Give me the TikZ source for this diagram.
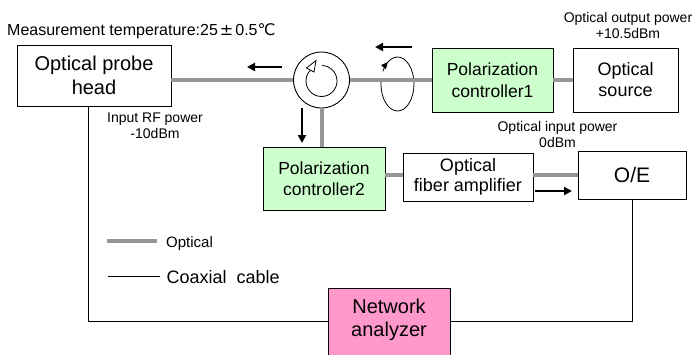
\documentclass[tikz,border=0pt]{standalone}
\usepackage{fontspec}
\setmainfont{Liberation Sans}
\newfontfamily\dejavu{DejaVu Sans}
\usetikzlibrary{arrows.meta}
\definecolor{optgray}{RGB}{150,150,150}
\definecolor{pcgreen}{RGB}{204,255,204}
\definecolor{napink}{RGB}{255,153,204}
\begin{document}
\begin{tikzpicture}[x=1pt,y=-1pt,
  box/.style={draw, line width=0.9pt, inner sep=0pt, align=center},
  optical/.style={draw=optgray, line width=4pt},
  coax/.style={draw=black, line width=0.9pt},
  flow/.style={line width=2.2pt, -{Triangle[length=8pt,width=8pt]}},
  small/.style={font=\fontsize{14}{16}\selectfont, inner sep=0pt, align=center},
  pctext/.style={font=\fontsize{17.5}{21.5}\selectfont},
  thin/.style={line width=0.8pt}]
\useasboundingbox (0,0) rectangle (695,354);
\begin{scope}
\clip (0,0) rectangle (695,354);
\fill[white] (0,0) rectangle (695,354);

% texts
\node[anchor=base west, inner sep=0pt, font=\fontsize{16}{18}\selectfont] (temp) at (7,35)
  {Measurement temperature:25\kern2pt{\dejavu ±}\kern2pt0.5{\dejavu ℃}};
\node[small] (outpow) at (628,25.5) {Optical output power\\+10.5dBm};
\node[small] (inpow) at (557.5,134) {Optical input power\\0dBm};
\node[small] (rfpow) at (155,126) {Input RF power\\-10dBm};

% boxes
\node[box, minimum width=154pt, minimum height=61pt, font=\fontsize{20}{24}\selectfont] (probe) at (94,75.5) {Optical probe\\head};
\node[draw, circle, line width=0.9pt, minimum size=56pt, inner sep=0pt] (circ) at (321.5,80) {};
\node[box, fill=pcgreen, minimum width=121pt, minimum height=64pt, pctext] (pc1) at (492.5,80) {Polarization\\controller1};
\node[box, minimum width=105pt, minimum height=64pt, font=\fontsize{18}{21}\selectfont] (src) at (625.5,80) {Optical\\source};
\node[box, fill=pcgreen, minimum width=122pt, minimum height=63pt, pctext] (pc2) at (324,178.5) {Polarization\\controller2};
\node[box, minimum width=130pt, minimum height=48pt, font=\fontsize{18}{20.5}\selectfont] (amp) at (468,177) {Optical\\fiber amplifier};
\node[box, minimum width=108pt, minimum height=48pt, font=\fontsize{21}{24}\selectfont] (oe) at (632,175) {O/E};
\node[box, fill=napink, minimum width=122pt, minimum height=75pt, anchor=north] (na) at (389,288) {};
\node[inner sep=0pt, align=center, font=\fontsize{20}{23.5}\selectfont] (natext) at (389,320) {Network\\analyzer};

% circulator inner arrow
\draw[thin] ([shift={(88:15.5pt)}]321.5,81) arc[start angle=88, end angle=-225, radius=15.5pt];
\draw[thin, fill=white, line join=miter] (316,60.5) -- (306.5,68) -- (314,72) -- cycle;

% polarization rotation loop
\draw[thin] ([shift={(125:16.5pt and 27pt)}]397.5,84) arc[start angle=125, end angle=-188, x radius=16.5pt, y radius=27pt];
\draw[thin, -{Triangle[length=7pt,width=6pt]}] ([shift={(152:16.5pt and 27pt)}]397.5,84) arc[start angle=152, end angle=125, x radius=16.5pt, y radius=27pt];

% optical connections
\draw[optical] (circ.west -| probe.east) -- (circ.west);
\draw[optical] (circ.east) -- (circ.east -| pc1.west);
\draw[optical] (pc1.east) -- (src.west);
\draw[optical] (circ.south) -- (circ.south |- pc2.north);
\draw[optical] (pc2.east |- oe.west) -- (amp.west |- oe.west);
\draw[optical] (amp.east |- oe.west) -- (oe.west);

% coaxial connections
\coordinate (pb) at (88,106);
\coordinate (nal) at (328,321);
\coordinate (nar) at (450,321);
\draw[coax] (pb) |- (nal);
\draw[coax] (oe.south) |- (nar);

% direction arrows
\coordinate (a1s) at (282,67); \coordinate (a1e) at (247,67);
\coordinate (a2s) at (412,47); \coordinate (a2e) at (375,47);
\coordinate (a3s) at (302,108); \coordinate (a3e) at (302,143);
\coordinate (a4s) at (535,191); \coordinate (a4e) at (572,191);
\draw[flow] (a1s) -- (a1e);
\draw[flow] (a2s) -- (a2e);
\draw[flow] (a3s) -- (a3e);
\draw[flow] (a4s) -- (a4e);

% legend
\coordinate (lg1a) at (107,241); \coordinate (lg1b) at (157,241);
\coordinate (lg2a) at (108,276); \coordinate (lg2b) at (160,276);
\draw[optical] (lg1a) -- (lg1b);
\draw[coax] (lg2a) -- (lg2b);
\node[anchor=base west, inner sep=0pt, font=\fontsize{15}{17}\selectfont] (lgopt) at (166,247.5) {Optical};
\node[anchor=base west, inner sep=0pt, font=\fontsize{18}{20}\selectfont] (lgcoax) at (166.5,283) {Coaxial\ \ cable};
\end{scope}
\end{tikzpicture}
\end{document}
